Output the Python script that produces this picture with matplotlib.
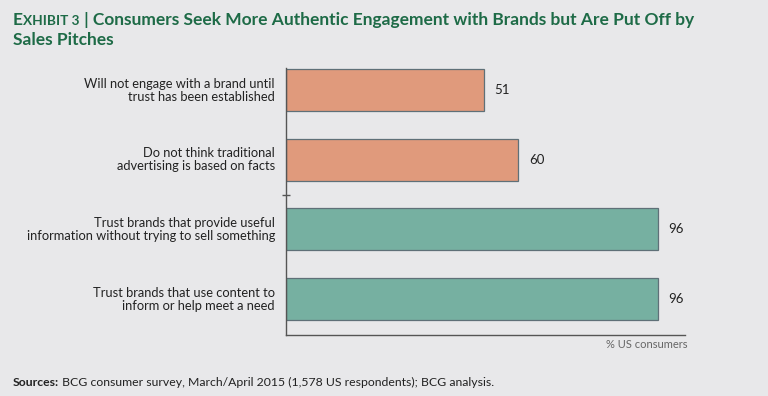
import matplotlib

matplotlib.use("Agg")

import matplotlib.pyplot as plt

plt.rcParams["font.family"] = ["Lato", "DejaVu Sans"]

labels = [
    "Will not engage with a brand until\ntrust has been established",
    "Do not think traditional\nadvertising is based on facts",
    "Trust brands that provide useful\ninformation without trying to sell something",
    "Trust brands that use content to\ninform or help meet a need",
]
values = [51, 60, 96, 96]
groups = ["negative", "negative", "positive", "positive"]
group_colors = {"negative": "#e09a7c", "positive": "#76b0a1"}

title_lead = "E"
title_small = "XHIBIT 3"
title_rest = " | Consumers Seek More Authentic Engagement with Brands but Are Put Off by"
title_line2 = "Sales Pitches"
unit_label = "% US consumers"
source_bold = "Sources:"
source_text = " BCG consumer survey, March/April 2015 (1,578 US respondents); BCG analysis."

BG = "#e8e8ea"
TITLE_GREEN = "#1e6b47"
TEXT = "#222222"

W, H = 768, 396
fig = plt.figure(figsize=(W / 100, H / 100), dpi=100, facecolor=BG)
ax = fig.add_axes([286 / W, 1 - 335 / H, (685 - 286) / W, (335 - 68) / H])
ax.set_facecolor(BG)

positions = list(range(len(values)))
ax.barh(
    positions,
    values,
    height=0.6,
    color=[group_colors[g] for g in groups],
    edgecolor="#5f7078",
    linewidth=0.9,
)
ax.set_xlim(0, 103)
ax.set_ylim(3.516, -0.316)

for pos, label, value in zip(positions, labels, values):
    ax.annotate(label, xy=(0, pos), xytext=(-8, 0), textcoords="offset points",
                ha="right", va="center", fontsize=9.3, color=TEXT, linespacing=1.1)
    ax.annotate(f"{value}", xy=(value, pos), xytext=(7.5, 0), textcoords="offset points",
                ha="left", va="center", fontsize=9.5, color=TEXT)

for side in ["top", "right"]:
    ax.spines[side].set_visible(False)
for side in ["left", "bottom"]:
    ax.spines[side].set_color("#555555")
    ax.spines[side].set_linewidth(1.0)
ax.set_xticks([])
ax.set_yticks([1.5])
ax.set_yticklabels([])
ax.tick_params(axis="y", direction="inout", length=6, width=1.0, color="#555555")

fig.text(688 / W, 1 - 344 / H, unit_label, ha="right", va="center", fontsize=8, color="#666666")


def text_run(x_px, y_px, pieces):
    """Draw text pieces one after another on a shared baseline."""
    renderer = fig.canvas.get_renderer()
    x = x_px
    for s, kw in pieces:
        t = fig.text(x / W, 1 - y_px / H, s, ha="left", va="baseline", **kw)
        x += t.get_window_extent(renderer).width
    return x


title_kw = dict(fontsize=12.5, fontweight="bold", color=TITLE_GREEN)
text_run(13, 25, [
    (title_lead, title_kw),
    (title_small, dict(title_kw, fontsize=9.8)),
    (title_rest, title_kw),
])
text_run(13, 45, [(title_line2, title_kw)])

text_run(13, 386, [
    (source_bold, dict(fontsize=8.8, fontweight="bold", color=TEXT)),
    (source_text, dict(fontsize=8.8, color=TEXT)),
])

fig.savefig("out.png", dpi=100, facecolor=BG)
